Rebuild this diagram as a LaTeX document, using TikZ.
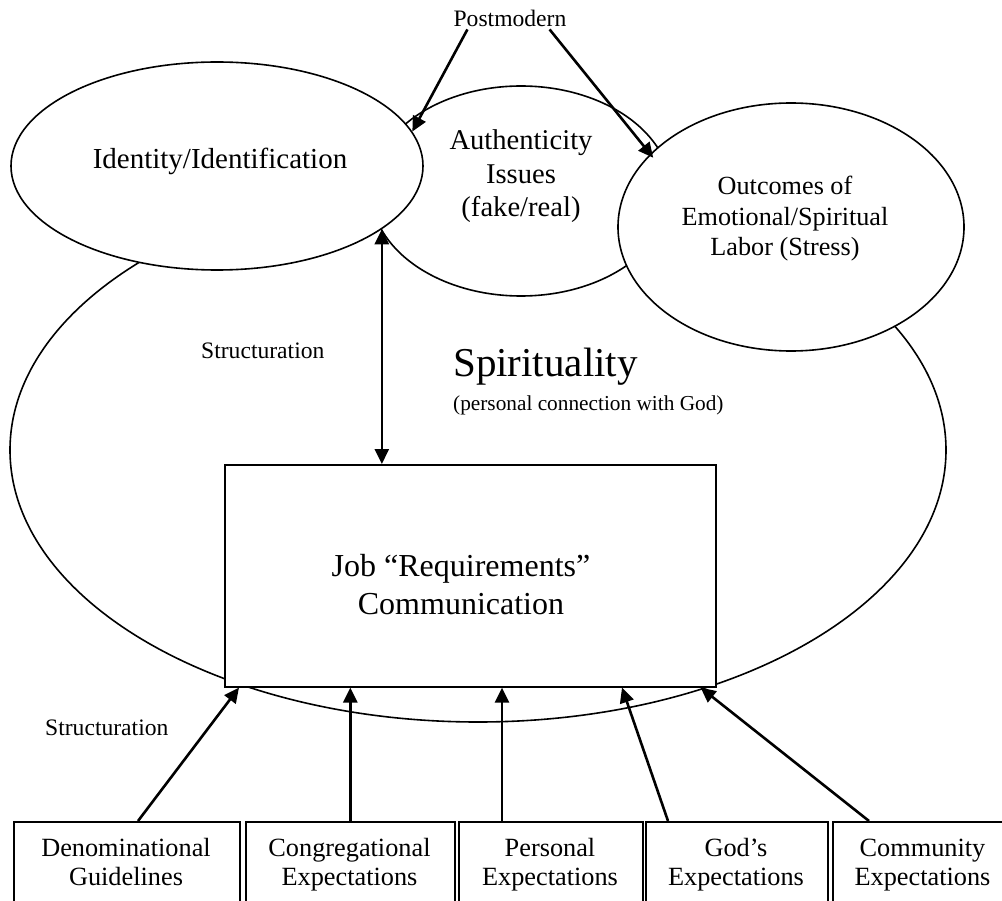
\documentclass[tikz,border=0pt]{standalone}
\usepackage{fontspec}
\setmainfont{Liberation Serif}
\usetikzlibrary{shapes.geometric,arrows.meta,calc}
\newcommand{\mlines}[1]{\begin{tabular}[t]{@{}c@{}}#1\end{tabular}}
\begin{document}
\begin{tikzpicture}[x=1pt,y=-1pt,
  oval/.style={ellipse,draw,line width=1.6pt,fill=white,inner sep=0pt},
  rbox/.style={rectangle,draw,line width=1.6pt,fill=white,inner sep=0pt,anchor=north west},
  arr/.style={line width=2.6pt,-{Triangle[length=15pt,width=14pt]}},
  darr/.style={line width=2.6pt,{Triangle[length=15pt,width=14pt]}-{Triangle[length=15pt,width=14pt]}},
  lbl/.style={inner sep=0pt,anchor=base},
  lblw/.style={inner sep=0pt,anchor=base west},
  fsmall/.style={font=\fontsize{23.6}{28}\selectfont},
  fsub/.style={font=\fontsize{21.3}{25}\selectfont},
  fbox/.style={font=\fontsize{26.3}{29}\selectfont},
  fout/.style={font=\fontsize{26.2}{30.5}\selectfont},
  fauth/.style={font=\fontsize{28.6}{33.5}\selectfont},
  fid/.style={font=\fontsize{29}{34}\selectfont},
  fjob/.style={font=\fontsize{32}{38}\selectfont},
  fbig/.style={font=\fontsize{41}{48}\selectfont}]
\useasboundingbox (0,0) rectangle (1002,901);
\fill[white] (0,0) rectangle (1002,901);

% ovals
\node[oval,minimum width=936pt,minimum height=544pt] (spir) at (478,450) {};
\node[oval,minimum width=300pt,minimum height=210pt] (auth) at (521,191) {};
\node[oval,minimum width=412pt,minimum height=208pt] (ident) at (217,166) {};
\node[oval,minimum width=346pt,minimum height=248pt] (outc) at (791,227) {};

% oval texts
\node[lbl,fid] (identt) at (220,169) {Identity/Identification};
\node[lbl,fauth] (autht) at (521,150) {\mlines{Authenticity\\Issues\\(fake/real)}};
\node[lbl,fout] (outct) at (785,195) {\mlines{Outcomes of\\Emotional/Spiritual\\Labor (Stress)}};
\node[lblw,fbig] (spirt) at (453,377) {Spirituality};
\node[lblw,fsub] (spirs) at (453,410) {(personal connection with God)};
\node[lbl,fsmall] (post) at (510,27) {Postmodern};
\node[lblw,fsmall] (str1) at (201,359) {Structuration};
\node[lblw,fsmall] (str2) at (45,735) {Structuration};

% job box
\node[rbox,minimum width=491pt,minimum height=222pt] (job) at (224,464) {};
\node[lbl,fjob] (jobt) at (461,576) {\mlines{Job “Requirements”\\Communication}};

% bottom boxes
\node[rbox,minimum width=226pt,minimum height=84pt] (den) at (13,821) {};
\node[rbox,minimum width=209pt,minimum height=84pt] (cong) at (245,821) {};
\node[rbox,minimum width=184pt,minimum height=84pt] (pers) at (458,821) {};
\node[rbox,minimum width=182pt,minimum height=84pt] (god) at (645,821) {};
\node[rbox,minimum width=181pt,minimum height=84pt] (comm) at (832,821) {};
\node[lbl,fbox] (dent) at (126,856) {\mlines{Denominational\\Guidelines}};
\node[lbl,fbox] (congt) at (349.5,856) {\mlines{Congregational\\Expectations}};
\node[lbl,fbox] (perst) at (550,856) {\mlines{Personal\\Expectations}};
\node[lbl,fbox] (godt) at (736,856) {\mlines{God’s\\Expectations}};
\node[lbl,fbox] (commt) at (922.5,856) {\mlines{Community\\Expectations}};

% arrows
\draw[arr] ($(post.south west)+(14,2)$) -- (ident.10);
\draw[arr] ($(post.south east)+(-17,2)$) -- ($(outc.153)+(4,3)$);
\draw[darr] (ident.-21) -- (ident.-21 |- job.north);
\draw[arr] ($(den.north west)+(125,0)$) -- ($(job.south west)+(15,0)$);
\draw[arr] (cong.north) -- (cong.north |- job.south);
\draw[arr] ($(pers.north west)+(44,0)$) -- ($(job.south west)+(278,0)$);
\draw[arr] ($(god.north west)+(23,0)$) -- ($(job.south west)+(398,0)$);
\draw[arr] ($(comm.north west)+(37,0)$) -- ($(job.south east)+(-16,0)$);
\end{tikzpicture}
\end{document}
